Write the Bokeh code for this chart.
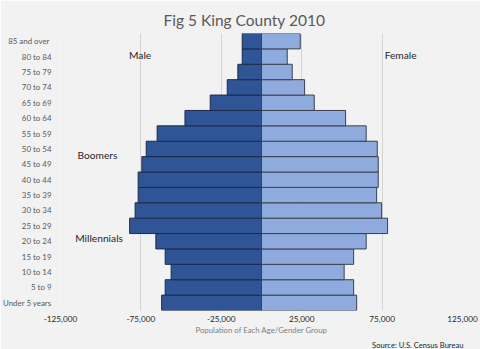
from bokeh.plotting import figure
from bokeh.models import FactorRange, Range1d, FixedTicker, NumeralTickFormatter, Label, Title
from bokeh.embed import file_html
from bokeh.resources import INLINE

age_groups = ["Under 5 years", "5 to 9", "10 to 14", "15 to 19", "20 to 24", "25 to 29",
              "30 to 34", "35 to 39", "40 to 44", "45 to 49", "50 to 54", "55 to 59",
              "60 to 64", "65 to 69", "70 to 74", "75 to 79", "80 to 84", "85  and over"]
male = [62100, 59900, 56200, 59900, 65700, 82000, 78600, 76700, 76700, 74400, 71700, 64900,
        47600, 31900, 21300, 14700, 12000, 12000]
female = [59200, 57300, 51400, 57300, 65100, 78400, 74700, 71600, 72600, 72600, 72000, 65100,
          52300, 32800, 26800, 19100, 16000, 24100]
x_ticks = [-125000, -75000, -25000, 25000, 75000, 125000]
title_text = "Fig 5 King County 2010"
x_label = "Population of Each Age/Gender Group"
source_text = "Source: U.S. Census Bureau"

FONT = "Lato"
BG = "#f2f2f2"

male_neg = [-v for v in male]

p = figure(width=480, height=349, output_backend="svg", toolbar_location=None,
           y_range=FactorRange(factors=age_groups, range_padding=0),
           x_range=Range1d(-125000, 125000),
           min_border_left=60, min_border_right=18, min_border_top=33, min_border_bottom=38)

p.background_fill_color = BG
p.border_fill_color = BG
p.outline_line_color = None

p.title.text = title_text
p.title.align = "left"
p.title.text_font = FONT
p.title.text_font_style = "normal"
p.title.text_font_size = "15.5px"
p.title.text_color = "#595959"
p.title.offset = 103
p.title.standoff = 10

p.hbar(y=age_groups, left=male_neg, right=0, height=1.0,
       fill_color="#2f5597", line_color="#1c2b4a", line_width=1)
p.hbar(y=age_groups, left=0, right=female, height=1.0,
       fill_color="#8faadc", line_color="#3b4150", line_width=1)

# axes
p.xaxis.ticker = FixedTicker(ticks=x_ticks)
p.xaxis.formatter = NumeralTickFormatter(format="0,0")
p.xaxis.axis_line_color = None
p.xaxis.major_tick_line_color = None
p.xaxis.minor_tick_line_color = None
p.xaxis.major_tick_out = 0
p.xaxis.major_tick_in = 0
p.xaxis.minor_tick_out = 0
p.xaxis.major_label_text_font = FONT
p.xaxis.major_label_text_font_size = "8.2px"
p.xaxis.major_label_text_color = "#262626"
p.xaxis.major_label_standoff = 5
p.xaxis.axis_label = x_label
p.xaxis.axis_label_text_font = FONT
p.xaxis.axis_label_text_font_size = "7.8px"
p.xaxis.axis_label_text_font_style = "normal"
p.xaxis.axis_label_text_color = "#7f7f7f"
p.xaxis.axis_label_standoff = 0

p.yaxis.axis_line_color = None
p.yaxis.major_tick_line_color = None
p.yaxis.minor_tick_line_color = None
p.yaxis.major_tick_out = 0
p.yaxis.major_tick_in = 0
p.yaxis.minor_tick_out = 0
p.yaxis.major_label_text_font = FONT
p.yaxis.major_label_text_font_size = "7.9px"
p.yaxis.major_label_text_color = "#595959"
p.yaxis.major_label_standoff = 9
p.yaxis.axis_label_standoff = 0

p.xgrid.ticker = FixedTicker(ticks=x_ticks)
p.xgrid.grid_line_color = "#d4d4d4"
p.xgrid.level = "underlay"
p.ygrid.grid_line_color = None

def add_label(text, x, y, size="10.2px", color="#262626", style="normal"):
    p.add_layout(Label(x=x, y=y, text=text, text_align="center", text_baseline="middle",
                       text_font=FONT, text_font_size=size, text_color=color,
                       text_font_style=style))

add_label("Male", -75500, 16.6)
add_label("Female", 86500, 16.6)
add_label("Boomers", -102000, 10.1)
add_label("Millennials", -101000, 4.72)

source = Title(text=source_text, align="right", text_font=FONT, text_font_size="7.6px",
               text_font_style="normal", text_color="#262626", offset=-1, standoff=0)
p.add_layout(source, "below")

open("out.html", "w").write(file_html(p, INLINE))
